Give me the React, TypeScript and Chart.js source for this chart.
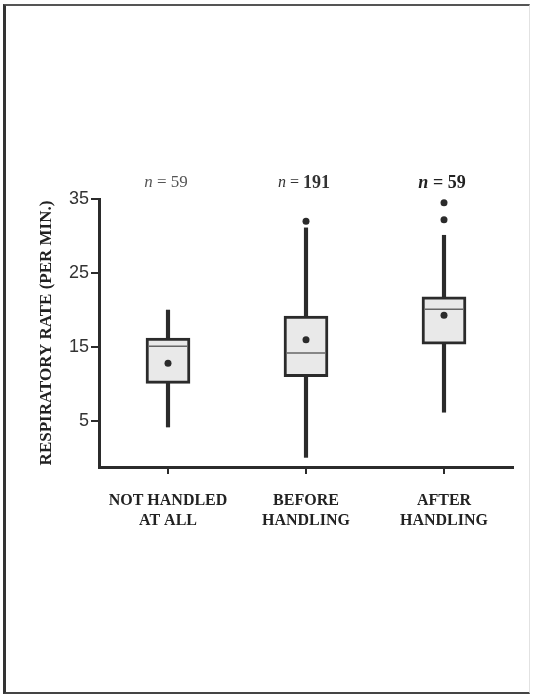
import React, { useEffect, useRef } from "react";
import { Chart, registerables } from "chart.js";

Chart.register(...registerables);

const categories = [["NOT HANDLED", "AT ALL"], ["BEFORE", "HANDLING"], ["AFTER", "HANDLING"]];
const q1 = [10.1, 11.0, 15.4];
const q3 = [16.2, 19.2, 21.8];
const medians = [15.1, 14.2, 20.1];
const whiskerLow = [4.2, 0.1, 6.2];
const whiskerHigh = [20.0, 31.1, 30.1];
const means = [12.8, 16.0, 19.3];
const outliers = [[], [32.0], [32.2, 34.5]];
const sampleSizes = [59, 191, 59];
const yTicks = [5, 15, 25, 35];
const yTitle = "RESPIRATORY RATE (PER MIN.)";

const INK = "#2b2b2b";

export default function App() {
  const ref = useRef<HTMLCanvasElement>(null);

  useEffect(() => {
    if (!ref.current) return;
    const maxOut = Math.max(...outliers.map((o) => o.length));
    const outlierSets = [] as any[];
    for (let k = 0; k < maxOut; k++) {
      outlierSets.push({
        type: "line",
        data: outliers.map((o) => (o[k] === undefined ? null : o[k])),
        showLine: false,
        pointRadius: 3.5,
        pointBackgroundColor: INK,
        pointBorderColor: INK,
        pointBorderWidth: 0,
        order: 0,
      });
    }

    const medianPlugin = {
      id: "medians",
      afterDatasetsDraw(chart: any) {
        const { ctx, scales } = chart;
        const xs = scales.x;
        const ys = scales.y;
        ctx.save();
        medians.forEach((m, i) => {
          const x = xs.getPixelForValue(i);
          const y = ys.getPixelForValue(m);
          ctx.strokeStyle = "#666";
          ctx.lineWidth = 1.5;
          ctx.beginPath();
          ctx.moveTo(x - 19, y);
          ctx.lineTo(x + 19, y);
          ctx.stroke();
        });
        ctx.restore();
      },
    };

    const nPlugin = {
      id: "nlabels",
      afterDraw(chart: any) {
        const { ctx, scales } = chart;
        const xs = scales.x;
        const y = 183;
        ctx.save();
        ctx.textBaseline = "middle";
        const styles = [
          { color: "#555", parts: [["italic 17px 'Liberation Serif'", "n"], ["17px 'Liberation Serif'", " = " + sampleSizes[0]]] },
          { color: "#333", parts: [["italic 16px 'Liberation Serif'", "n"], ["16px 'Liberation Serif'", " = "], ["bold 18px 'Liberation Serif'", String(sampleSizes[1])]] },
          { color: "#222", parts: [["bold italic 18px 'Liberation Serif'", "n"], ["bold 18px 'Liberation Serif'", " = " + sampleSizes[2]]] },
        ];
        styles.forEach((s, i) => {
          let total = 0;
          s.parts.forEach(([f, t]) => {
            ctx.font = f;
            total += ctx.measureText(t).width;
          });
          let x = xs.getPixelForValue(i) - total / 2 - 2;
          ctx.textAlign = "left";
          ctx.fillStyle = s.color;
          s.parts.forEach(([f, t]) => {
            ctx.font = f;
            ctx.fillText(t, x, y);
            x += ctx.measureText(t).width;
          });
        });
        ctx.restore();
      },
    };

    const chart = new Chart(ref.current, {
      type: "bar",
      data: {
        labels: categories as any,
        datasets: [
          {
            type: "line",
            data: means,
            showLine: false,
            pointRadius: 3.5,
            pointBackgroundColor: INK,
            pointBorderColor: INK,
            pointBorderWidth: 0,
            order: 0,
          } as any,
          ...outlierSets,
          {
            type: "bar",
            data: q1.map((v, i) => [v, q3[i]]),
            barThickness: 44,
            backgroundColor: "#e9e9e9",
            borderColor: INK,
            borderWidth: 3,
            borderSkipped: false,
            grouped: false,
            order: 1,
          },
          {
            type: "bar",
            data: whiskerLow.map((v, i) => [v, q1[i]]),
            barThickness: 3.5,
            backgroundColor: INK,
            borderWidth: 0,
            grouped: false,
            order: 2,
          },
          {
            type: "bar",
            data: whiskerHigh.map((v, i) => [q3[i], v]),
            barThickness: 3.5,
            backgroundColor: INK,
            borderWidth: 0,
            grouped: false,
            order: 2,
          },
        ],
      },
      options: {
        animation: false,
        responsive: false,
        events: [],
        layout: { padding: { left: 0, top: 199, right: 24, bottom: 0 } },
        plugins: { legend: { display: false }, tooltip: { enabled: false } },
        scales: {
          x: {
            type: "category",
            offset: true,
            afterFit(scale: any) {
              scale.height = 231;
            },
            grid: {
              offset: false,
              drawOnChartArea: false,
              drawTicks: true,
              tickLength: 7,
              color: INK,
              lineWidth: 2,
            },
            border: { display: true, width: 3, color: INK },
            ticks: {
              color: "#222",
              padding: 16,
              maxRotation: 0,
              font: { family: "'Liberation Serif'", weight: 700, size: 16, lineHeight: 1.3 },
            },
          },
          y: {
            min: -1.2,
            max: 35,
            afterFit(scale: any) {
              scale.width = 99;
            },
            afterBuildTicks(scale: any) {
              scale.ticks = yTicks.map((v) => ({ value: v }));
            },
            grid: {
              drawOnChartArea: false,
              drawTicks: true,
              tickLength: 8,
              color: INK,
              lineWidth: 2,
            },
            border: { display: true, width: 3, color: INK },
            ticks: {
              color: "#333",
              padding: 2,
              font: { family: "'Liberation Sans'", size: 18 },
            },
            title: {
              display: true,
              text: yTitle,
              color: "#222",
              padding: { top: 36, bottom: 0 },
              font: { family: "'Liberation Serif'", weight: 700, size: 17 },
            },
          },
        },
      },
      plugins: [medianPlugin, nPlugin],
    });
    return () => chart.destroy();
  }, []);

  return (
    <div style={{ position: "absolute", left: 0, top: 0, width: 537, height: 698, background: "#fff" }}>
      <div
        style={{
          position: "absolute",
          left: 3,
          top: 4,
          width: 527,
          height: 690,
          boxSizing: "border-box",
          borderLeft: "3px solid #333",
          borderTop: "2px solid #555",
          borderBottom: "2px solid #444",
          borderRight: "1px solid #e2e2e2",
        }}
      />
      <canvas
        ref={ref}
        width={537}
        height={698}
        style={{ position: "absolute", left: 0, top: 0, width: 537, height: 698 }}
      />
    </div>
  );
}
